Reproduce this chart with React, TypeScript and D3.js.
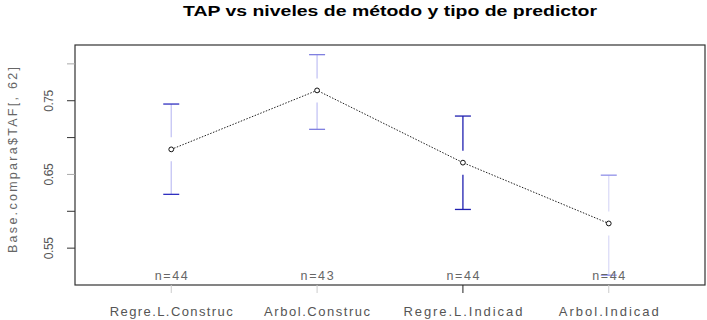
import * as d3 from "d3";
import { useMemo } from "react";

const width = 707;
const height = 320;
const marginLeft = 75;
const marginRight = 2;
const marginTop = 45;
const marginBottom = 35;

const categories = ["Regre.L.Construc", "Arbol.Construc", "Regre.L.Indicad", "Arbol.Indicad"];
const means = [0.684, 0.764, 0.666, 0.5835];
const upper = [0.7455, 0.8125, 0.7292, 0.649];
const lower = [0.623, 0.7112, 0.6025, 0.5133];
const counts = [44, 43, 44, 44];
const yTicks = [0.55, 0.6, 0.65, 0.7, 0.75, 0.8];
const yTickLabels = [0.55, 0.65, 0.75];

// label widths as rendered in the original (its font runs wider than ours)
const labelWidths = [123, 106, 119, 100];

// rendering of the bars in the original is uneven, keep it per bar
const barLineColor = ["#c4c4f4", "#c4c4f4", "#2020b0", "#dcdcf8"];
const barCapColor = ["#3030c0", "#8080e0", "#2020b0", "#9090e8"];

const App = () => {
  const x = useMemo(
    () => d3.scaleLinear().domain([0.34, 4.66]).range([marginLeft, width - marginRight]),
    []
  );
  const y = useMemo(
    () => d3.scaleLinear().domain([0.5, 0.8256]).range([height - marginBottom, marginTop]),
    []
  );

  const pts = means.map((m, i) => ({ i: i + 1, m }));
  const line = d3
    .line<{ i: number; m: number }>()
    .x((d) => x(d.i))
    .y((d) => y(d.m));

  const gap = 12;
  const cap = 8;

  return (
    <div style={{ position: "fixed", left: 0, top: 0 }}>
      <svg width={width} height={height} viewBox={`0 0 ${width} ${height}`} style={{ display: "block", background: "#fff" }} fontFamily="'Liberation Sans', Arial, sans-serif">
        <text x={390} y={16} textAnchor="middle" fontSize={15.5} fontWeight="bold" fill="#000" textLength={414} lengthAdjust="spacingAndGlyphs">
          TAP vs niveles de método y tipo de predictor
        </text>

        {/* error bars */}
        {means.map((m, k) => {
          const cx = x(k + 1);
          const cy = y(m);
          return (
            <g key={k}>
              <line x1={cx} x2={cx} y1={y(upper[k])} y2={cy - gap} stroke={barLineColor[k]} strokeWidth={1.3} />
              <line x1={cx} x2={cx} y1={cy + gap} y2={y(lower[k])} stroke={barLineColor[k]} strokeWidth={1.3} />
              <line x1={cx - cap} x2={cx + cap} y1={y(upper[k])} y2={y(upper[k])} stroke={barCapColor[k]} strokeWidth={1.3} />
              <line x1={cx - cap} x2={cx + cap} y1={y(lower[k])} y2={y(lower[k])} stroke={barCapColor[k]} strokeWidth={1.3} />
            </g>
          );
        })}

        <path d={line(pts) as string} fill="none" stroke="#222" strokeWidth={1} strokeDasharray="1.5,1.5" />
        {pts.map((d) => (
          <circle key={d.i} cx={x(d.i)} cy={y(d.m)} r={2.4} fill="#fff" stroke="#111" strokeWidth={1} />
        ))}

        {counts.map((n, k) => (
          <text key={k} x={x(k + 1)} y={y(0.5) - 5} textAnchor="middle" fontSize={12.5} fill="#666" textLength={33} lengthAdjust="spacing">
            n={n}
          </text>
        ))}

        {/* box */}
        <rect
          x={marginLeft}
          y={marginTop}
          width={width - marginRight - marginLeft}
          height={height - marginBottom - marginTop}
          fill="none"
          stroke="#333"
          strokeWidth={1.2}
        />

        {/* y axis */}
        {yTicks.map((t) => (
          <line key={t} x1={marginLeft - 8} x2={marginLeft} y1={y(t)} y2={y(t)} stroke={t === 0.8 || t === 0.65 ? "#aaa" : "#333"} strokeWidth={1} />
        ))}
        {yTickLabels.map((t) => (
          <text key={t} transform={`translate(${marginLeft - 22},${y(t)}) rotate(-90)`} textAnchor="middle" fontSize={12} fill="#555" textLength={22} lengthAdjust="spacing">
            {t.toFixed(2)}
          </text>
        ))}
        <text transform={`translate(17,160) rotate(-90)`} textAnchor="middle" fontSize={12.5} fill="#666" textLength={186} lengthAdjust="spacing">
          Base.compara$TAF[, 62]
        </text>

        {/* x axis */}
        {categories.map((c, k) => (
          <g key={c}>
            <line x1={x(k + 1)} x2={x(k + 1)} y1={height - marginBottom} y2={height - marginBottom + 8} stroke={k === 2 ? "#222" : "#ccc"} strokeWidth={1} />
            <text x={x(k + 1)} y={316} textAnchor="middle" fontSize={13} fill="#555" textLength={labelWidths[k]} lengthAdjust="spacing">
              {c}
            </text>
          </g>
        ))}
      </svg>
    </div>
  );
};

export default App;
